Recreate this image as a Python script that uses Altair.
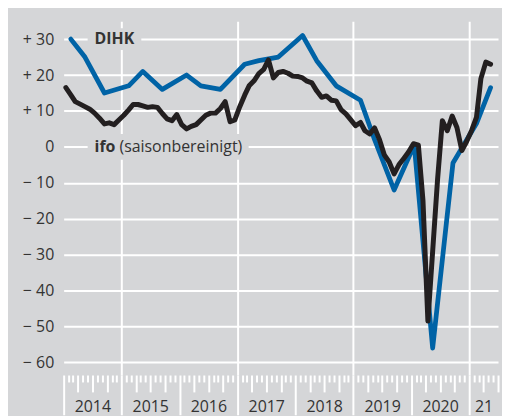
import altair as alt
import pandas as pd

BG = "#d5d6d8"
BLUE = "#0063a6"
BLACK = "#231f20"
TXT = "#333333"
FONT = "Open Sans"

# ifo (saisonbereinigt), monthly Jan 2014 .. May 2021
ifo_values = [
    16.5, 14.5, 12.6, 11.9, 11.2, 10.5, 9.4, 8.0, 6.4, 6.7, 6.2, 7.5,      # 2014
    8.8, 10.3, 11.8, 11.8, 11.4, 11.0, 11.2, 11.0, 9.3, 7.8, 7.3, 9.0,      # 2015
    6.2, 5.0, 5.7, 6.2, 7.5, 8.8, 9.4, 9.4, 10.7, 12.6, 7.0, 7.5,           # 2016
    11.2, 14.4, 17.0, 18.4, 20.4, 21.6, 24.2, 19.2, 20.7, 21.0, 20.5, 19.7, # 2017
    19.6, 19.2, 18.3, 17.8, 15.6, 13.8, 14.2, 13.0, 12.8, 10.4, 9.2, 7.6,   # 2018
    5.9, 6.8, 4.5, 3.6, 5.3, 2.0, -2.2, -4.2, -7.5, -5.0, -3.2, -1.4,       # 2019
    0.9, 0.5, -15.0, -48.5, -29.0, -9.0, 7.3, 4.5, 8.6, 5.4, -1.0, 1.5,     # 2020
    4.5, 8.2, 19.0, 23.6, 23.0,                                             # 2021
]
ifo_dates = [f"{2014 + i // 12}/{i % 12 + 1:02d}/15" for i in range(len(ifo_values))]

# DIHK survey results
dihk_dates = [
    "2014/02/15", "2014/05/15", "2014/09/15",
    "2015/02/15", "2015/05/15", "2015/09/15",
    "2016/02/15", "2016/05/15", "2016/09/15",
    "2017/02/15", "2017/05/15", "2017/09/15",
    "2018/02/15", "2018/05/15", "2018/09/15",
    "2019/02/15", "2019/05/15", "2019/09/15",
    "2020/01/20", "2020/05/15", "2020/09/20",
    "2021/02/15", "2021/05/15",
]
dihk_values = [
    30, 25, 15,
    17, 21, 16,
    20, 17, 16,
    23, 24, 25,
    31, 24, 17,
    13, 2, -12,
    0.5, -56, -4.5,
    6.5, 16.5,
]

y_ticks = [-60, -50, -40, -30, -20, -10, 0, 10, 20, 30]

ifo_df = pd.DataFrame({"date": ifo_dates, "value": ifo_values})
dihk_df = pd.DataFrame({"date": dihk_dates, "value": dihk_values})
lab_dihk = pd.DataFrame({"date": ["2014/07/15"], "value": [30], "text": ["DIHK"]})
lab_ifo = pd.DataFrame({"date": ["2014/07/15"], "value": [0], "text": ["ifo"]})
lab_ifo2 = pd.DataFrame({"date": ["2014/07/15"], "value": [0], "text": ["(saisonbereinigt)"]})

month_ticks = [alt.DateTime(year=2014 + i // 12, month=i % 12 + 1, date=1) for i in range(91)]

x_axis = alt.Axis(
    values=month_ticks,
    title=None,
    domain=False,
    ticks=True,
    tickColor="white",
    tickWidth=2,
    tickSize={"condition": [
        {"test": "month(datum.value) == 0", "value": 40},
        {"test": "month(datum.value) % 3 == 0", "value": 17},
    ], "value": 7},
    grid=True,
    gridColor="white",
    gridWidth=2,
    gridOpacity={"condition": {"test": "month(datum.value) == 0 && year(datum.value) % 2 == 1", "value": 1}, "value": 0},
    labelExpr="(month(datum.value) == 6 && year(datum.value) < 2021) ? timeFormat(datum.value, '%Y') : ((month(datum.value) == 3 && year(datum.value) == 2021) ? '21' : '')",
    labelFont=FONT,
    labelFontSize=16,
    labelColor=TXT,
    labelPadding=7,
    labelOverlap=False,
    labelFlush=False,
    labelBound=False,
    labelAlign="center",
    labelBaseline="top",
)

y_axis = alt.Axis(
    values=y_ticks,
    title=None,
    domain=False,
    ticks=False,
    grid=True,
    gridColor="white",
    gridWidth=2,
    labelExpr="datum.value > 0 ? '+ ' + datum.value : (datum.value < 0 ? '\u2212 ' + abs(datum.value) : '0')",
    labelFont=FONT,
    labelFontSize=16,
    labelColor=TXT,
    labelPadding=10,
)

X = alt.X("date:T", axis=x_axis,
          scale=alt.Scale(domain=[alt.DateTime(year=2014, month=1, date=1),
                                  alt.DateTime(year=2021, month=7, date=1)]))
Y = alt.Y("value:Q", axis=y_axis, scale=alt.Scale(domain=[-63.5, 35], nice=False, zero=False))

# background patches that interrupt the gridlines behind the labels
box_dihk = alt.Chart(lab_dihk).mark_rect(
    width=54, height=22, xOffset=20, fill=BG
).encode(x=X, y=Y)
box_ifo = alt.Chart(lab_ifo).mark_rect(
    width=162, height=26, xOffset=74, fill=BG
).encode(x=X, y=Y)

blue_line = alt.Chart(dihk_df).mark_line(
    color=BLUE, strokeWidth=4.8, strokeJoin="round", strokeCap="round"
).encode(x=X, y=Y)
black_line = alt.Chart(ifo_df).mark_line(
    color=BLACK, strokeWidth=5, strokeJoin="round", strokeCap="round"
).encode(x=X, y=Y)

t_dihk = alt.Chart(lab_dihk).mark_text(
    align="left", baseline="middle", font=FONT, fontSize=16, fontWeight="bold", color=TXT
).encode(x=X, y=Y, text="text:N")
t_ifo = alt.Chart(lab_ifo).mark_text(
    align="left", baseline="middle", font=FONT, fontSize=16, fontWeight="bold", color=TXT
).encode(x=X, y=Y, text="text:N")
t_ifo2 = alt.Chart(lab_ifo2).mark_text(
    align="left", baseline="middle", font=FONT, fontSize=16, dx=25, color=TXT
).encode(x=X, y=Y, text="text:N")

chart = alt.layer(
    box_dihk, box_ifo, blue_line, black_line, t_dihk, t_ifo, t_ifo2
).properties(
    width=437, height=356,
    padding={"left": 56, "top": 12, "right": 4, "bottom": 40},
    autosize=alt.AutoSizeParams(type="none"),
    background=BG,
).configure_view(stroke=None, fill=None)

chart.save("out.html", embed_options={"renderer": "svg", "actions": False})
